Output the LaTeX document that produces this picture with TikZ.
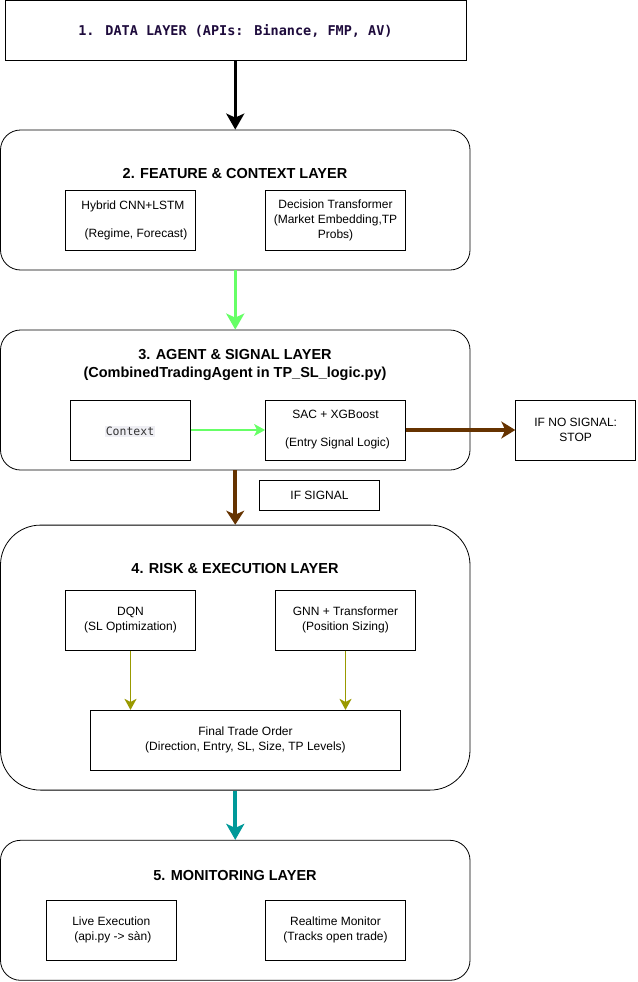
\documentclass[tikz,border=0pt]{standalone}
\usepackage{fontspec}
\setmainfont{Liberation Sans}
\newfontfamily\monof{DejaVu Sans Mono}
\usetikzlibrary{arrows.meta}
\definecolor{navytxt}{HTML}{1E0B3C}
\definecolor{brgreen}{HTML}{66FF66}
\definecolor{brownar}{HTML}{663300}
\definecolor{olivear}{HTML}{999900}
\definecolor{tealar}{HTML}{009999}
\definecolor{ctxbg}{HTML}{EFEFF4}
\tikzset{
  x=1pt, y=-1pt,
  layer/.style={draw, line width=0.8pt, rounded corners=20pt},
  subbox/.style={draw, line width=0.8pt, align=center, font=\fontsize{12}{15}\selectfont},
  ttl/.style={font=\fontsize{14.5}{18}\selectfont\bfseries, align=center},
  bigtip/.style={-{Stealth[length=16pt,width=18pt,inset=4pt]}},
  smalltip/.style={-{Stealth[length=11pt,width=12pt,inset=3pt]}},
}
\begin{document}
\begin{tikzpicture}
\useasboundingbox (0,0) rectangle (637,982);
% 1 data layer
\node[draw, line width=0.8pt, minimum width=461pt, minimum height=59.4pt, inner sep=0pt] (data) at (235.5,30.3) {};
\node[font=\monof\fontsize{13.5}{16}\selectfont\bfseries, text=navytxt] (datat) at (235.5,31) {1. DATA LAYER (APIs: Binance, FMP, AV)};
% 2 feature layer
\node[layer, minimum width=469.5pt, minimum height=140pt, inner sep=0pt] (feat) at (235.25,200) {};
\node[ttl] (featt) at (235,174) {2. FEATURE \& CONTEXT LAYER};
\node[subbox, minimum width=130pt, minimum height=60pt, inner sep=0pt] (hyb) at (130.5,220) {};
\node[subbox, draw=none, inner sep=0pt] (hybt) at (133,220) {Hybrid CNN+LSTM\\[13pt]\hspace*{6pt}(Regime, Forecast)};
\node[subbox, minimum width=140pt, minimum height=60pt, inner sep=0pt] (dec) at (335.5,220) {Decision Transformer\\(Market Embedding,TP\\Probs)};
% 3 agent layer
\node[layer, minimum width=469.5pt, minimum height=140pt, inner sep=0pt] (agent) at (235.25,400) {};
\node[ttl] (agentt) at (235,365) {3. AGENT \& SIGNAL LAYER\\(CombinedTradingAgent in TP\_SL\_logic.py)};
\node[subbox, minimum width=120pt, minimum height=60pt, inner sep=0pt] (ctx) at (130.5,430) {};
\node[fill=ctxbg, inner sep=1pt, font=\monof\fontsize{11.5}{14}\selectfont, text=black!80] (ctxt) at (130,431.5) {Context};
\node[subbox, minimum width=140pt, minimum height=60pt, inner sep=0pt] (sac) at (335.5,430) {SAC + XGBoost\\[13pt]\hspace*{4pt}(Entry Signal Logic)};
\node[subbox, minimum width=120pt, minimum height=60pt, inner sep=0pt] (stop) at (575.7,430) {IF NO SIGNAL:\\STOP};
\node[subbox, minimum width=120pt, minimum height=29.5pt, inner sep=0pt] (ifsig) at (319.5,495.3) {IF SIGNAL};
% 4 risk layer
\node[layer, rounded corners=40pt, minimum width=469.5pt, minimum height=265pt, inner sep=0pt] (risk) at (235.25,657.6) {};
\node[ttl] (riskt) at (235,569) {4. RISK \& EXECUTION LAYER};
\node[subbox, minimum width=130pt, minimum height=60pt, inner sep=0pt] (dqn) at (130.5,620.3) {DQN\\(SL Optimization)};
\node[subbox, minimum width=140pt, minimum height=60pt, inner sep=0pt] (gnn) at (345.5,620.3) {GNN + Transformer\\(Position Sizing)};
\node[subbox, minimum width=310.6pt, minimum height=60pt, inner sep=0pt] (final) at (245.5,740.3) {Final Trade Order\\(Direction, Entry, SL, Size, TP Levels)};
% 5 monitoring
\node[layer, minimum width=469.5pt, minimum height=140pt, inner sep=0pt] (mon) at (235.25,910.3) {};
\node[ttl] (mont) at (235,875) {5. MONITORING LAYER};
\node[subbox, minimum width=130pt, minimum height=60pt, inner sep=0pt] (live) at (111.3,930.2) {Live Execution\\\hspace*{3pt}(api.py -> sàn)};
\node[subbox, minimum width=140pt, minimum height=60pt, inner sep=0pt] (rt) at (335.5,930.2) {Realtime Monitor\\(Tracks open trade)};
% arrows
\draw[line width=3pt, black, bigtip] (data.south -| feat.north) -- (feat.north);
\draw[line width=3pt, brgreen, bigtip] (feat.south) -- (agent.north);
\draw[line width=1.2pt, brgreen, smalltip] (ctx.east) -- (sac.west);
\draw[line width=4pt, brownar, -{Stealth[length=14pt,width=17pt,inset=4pt]}] (sac.east) -- (stop.west);
\draw[line width=4pt, brownar, -{Stealth[length=14pt,width=18pt,inset=4pt]}] (agent.south) -- (risk.north);
\draw[line width=1.6pt, olivear, smalltip] (dqn.south) -- (dqn.south |- final.north);
\draw[line width=1.6pt, olivear, smalltip] (gnn.south) -- (gnn.south |- final.north);
\draw[line width=4pt, tealar, bigtip] (risk.south) -- (mon.north);
\end{tikzpicture}
\end{document}
